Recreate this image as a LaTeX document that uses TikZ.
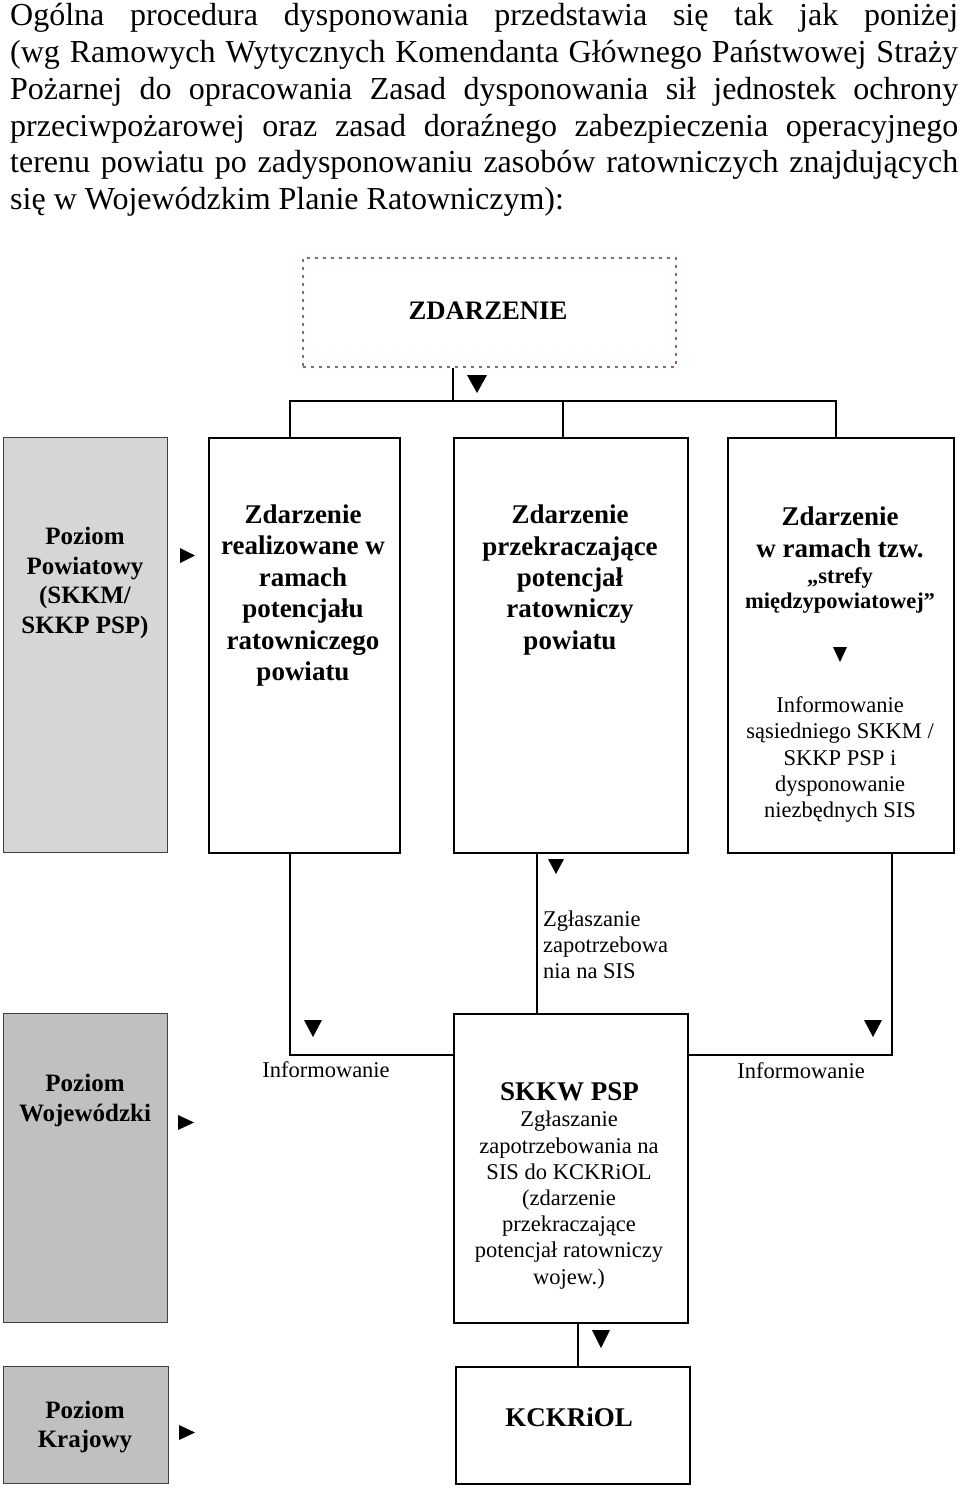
\documentclass[tikz,border=0pt]{standalone}
\usepackage{fontspec}
\setmainfont{Liberation Serif}
\definecolor{grayA}{RGB}{214,214,214}
\definecolor{grayB}{RGB}{192,192,192}
\definecolor{zdb}{RGB}{150,100,100}
\tikzset{
  box/.style={draw=black, line width=1.5pt, fill=white, inner sep=0pt, anchor=north west},
  graybox/.style={box, draw=black!75, line width=1.2pt},
  dashbox/.style={box, draw=zdb, line width=1.6pt, dash pattern=on 3pt off 5pt},
  conn/.style={line width=1.2pt, draw=black},
  para/.style={inner sep=0pt, anchor=base west, font=\fontsize{32}{36.7}\selectfont},
  tbig/.style={inner sep=0pt, align=center, font=\fontsize{27}{31.4}\selectfont\bfseries},
  tgray/.style={inner sep=0pt, align=center, font=\fontsize{25}{29.5}\selectfont\bfseries},
  tsmallb/.style={inner sep=0pt, align=center, font=\fontsize{22.5}{25}\selectfont\bfseries},
  treg/.style={inner sep=0pt, align=center, font=\fontsize{22.5}{26.2}\selectfont},
  tregl/.style={inner sep=0pt, align=left, anchor=west, font=\fontsize{22.5}{25.8}\selectfont},
  tri/.style={fill=black}
}
\begin{document}
\begin{tikzpicture}[x=1pt, y=-1pt]
\useasboundingbox (0,0) rectangle (960,1488);

% introductory paragraph
\node[para] (p1) at (10,26)    {\makebox[948pt][s]{Ogólna procedura dysponowania przedstawia się tak jak poniżej}};
\node[para] (p2) at (10,62.7)  {\makebox[948pt][s]{(wg Ramowych Wytycznych Komendanta Głównego Państwowej Straży}};
\node[para] (p3) at (10,99.4)  {\makebox[948pt][s]{Pożarnej do opracowania Zasad dysponowania sił jednostek ochrony}};
\node[para] (p4) at (10,136.1) {\makebox[948pt][s]{przeciwpożarowej oraz zasad doraźnego zabezpieczenia operacyjnego}};
\node[para] (p5) at (10,172.8) {\makebox[948pt][s]{terenu powiatu po zadysponowaniu zasobów ratowniczych znajdujących}};
\node[para] (p6) at (10,209.5) {się w Wojewódzkim Planie Ratowniczym):};

% coordinates for connectors
\coordinate (j0) at (453,401);
\coordinate (jl) at (290,401);
\coordinate (jm) at (563,401);
\coordinate (jr) at (836,401);
\coordinate (l1) at (290,1055);
\coordinate (m1) at (537,0);
\coordinate (r1) at (892,1055);
\coordinate (s1) at (578,0);

% boxes
\node[dashbox, minimum width=373pt, minimum height=109pt] (zd) at (302,257) {};
\node[graybox, fill=grayA, minimum width=164pt, minimum height=415pt] (g1) at (3,437) {};
\node[box, minimum width=191pt, minimum height=415pt] (b1) at (208,437) {};
\node[box, minimum width=234pt, minimum height=415pt] (b2) at (453,437) {};
\node[box, minimum width=226pt, minimum height=415pt] (b3) at (727,437) {};
\node[graybox, fill=grayB, minimum width=164pt, minimum height=309pt] (g2) at (3,1013) {};
\node[box, minimum width=234pt, minimum height=309pt] (skkw) at (453,1013) {};
\node[graybox, fill=grayB, minimum width=165pt, minimum height=117pt] (g3) at (3,1366) {};
\node[box, minimum width=234pt, minimum height=117pt] (kck) at (455,1366) {};

% connectors
\draw[conn] (zd.south -| j0) -- (j0);
\draw[conn] (jl |- b1.north) -- (jl) -- (jr) -- (jr |- b3.north);
\draw[conn] (jm) -- (jm |- b2.north);
\draw[conn] (l1 |- b1.south) -- (l1) -- (l1 -| skkw.west);
\draw[conn] (m1 |- b2.south) -- (m1 |- skkw.north);
\draw[conn] (r1 |- b3.south) -- (r1) -- (r1 -| skkw.east);
\draw[conn] (s1 |- skkw.south) -- (s1 |- kck.north);

% triangles
\fill[tri] (467,375) -- (487,375) -- (477,393) -- cycle;
\fill[tri] (180,548) -- (195,555.5) -- (180,563) -- cycle;
\fill[tri] (178,1115) -- (194,1122.5) -- (178,1130) -- cycle;
\fill[tri] (179,1425) -- (195,1432.5) -- (179,1440) -- cycle;
\fill[tri] (833,647) -- (847,647) -- (840,662) -- cycle;
\fill[tri] (548,859) -- (564,859) -- (556,874) -- cycle;
\fill[tri] (304,1020) -- (322,1020) -- (313,1037) -- cycle;
\fill[tri] (864,1020) -- (882,1020) -- (873,1037) -- cycle;
\fill[tri] (592,1330) -- (610,1330) -- (601,1348) -- cycle;

% texts
\node[inner sep=0pt, font=\fontsize{26.7}{30}\selectfont\bfseries] (tzd) at (488,311) {ZDARZENIE};
\node[tgray] (tg1) at (85,583) {Poziom\\Powiatowy\\(SKKM/\\SKKP PSP)};
\node[tbig] (tb1) at (303,595.5) {Zdarzenie\\realizowane w\\ramach\\potencjału\\ratowniczego\\powiatu};
\node[tbig] (tb2) at (570,580) {Zdarzenie\\przekraczające\\potencjał\\ratowniczy\\powiatu};
\node[tbig] (tb3a) at (840,532.5) {Zdarzenie\\w ramach tzw.};
\node[tsmallb] (tb3b) at (840,590.5) {„strefy\\międzypowiatowej”};
\node[treg] (tb3c) at (840,759.5) {Informowanie\\sąsiedniego SKKM /\\SKKP PSP i\\dysponowanie\\niezbędnych SIS};
\node[tregl] (tzg) at (543,945) {Zgłaszanie\\zapotrzebowa\\nia na SIS};
\node[treg] (tinfl) at (326,1070) {Informowanie};
\node[treg] (tinfr) at (801,1071) {Informowanie};
\node[tgray] (tg2) at (85,1100.5) {Poziom\\Wojewódzki};
\node[tbig] (tskkw) at (569.5,1092) {SKKW PSP};
\node[treg] (tskkw2) at (569,1200) {Zgłaszanie\\zapotrzebowania na\\SIS do KCKRiOL\\(zdarzenie\\przekraczające\\potencjał ratowniczy\\wojew.)};
\node[tgray] (tg3) at (85,1427) {Poziom\\Krajowy};
\node[tbig] (tkck) at (569,1417) {KCKRiOL};
\end{tikzpicture}
\end{document}
